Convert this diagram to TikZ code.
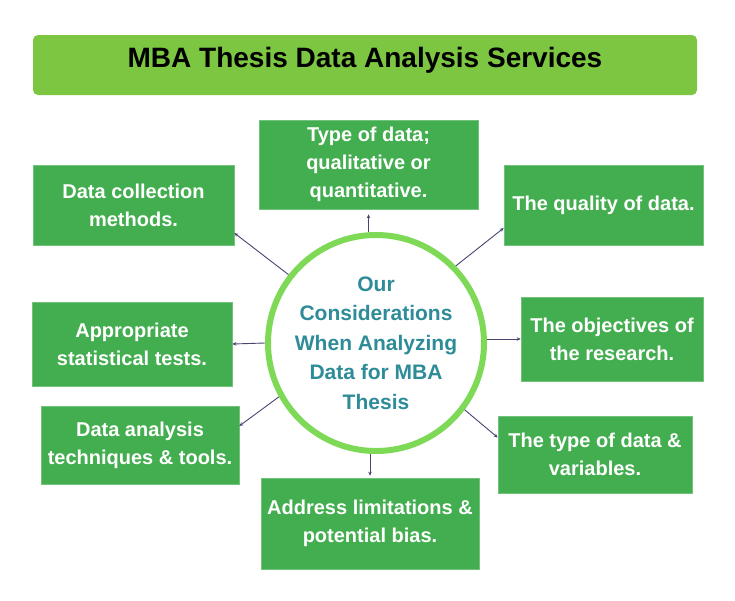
\documentclass[tikz,border=0pt]{standalone}
\usepackage{fontspec}
\setmainfont{Liberation Sans}
\usetikzlibrary{arrows.meta}
\definecolor{titlegreen}{HTML}{7DC642}
\definecolor{boxgreen}{HTML}{43AE4F}
\definecolor{ringgreen}{HTML}{7ED957}
\definecolor{tealtext}{HTML}{2E8C98}
\definecolor{connclr}{HTML}{4A4470}
\begin{document}
\begin{tikzpicture}[x=1pt,y=-1pt,
  titlebox/.style={rectangle, rounded corners=5pt, fill=titlegreen, draw=none, text=black,
    font=\fontsize{28}{34}\selectfont\bfseries, inner sep=0pt, text depth=16pt},
  infobox/.style={rectangle, fill=boxgreen, draw=boxgreen!75!white, line width=0.6pt, text=white,
    font=\fontsize{20}{28}\selectfont\bfseries, align=center, inner sep=0pt},
  hub/.style={circle, draw=ringgreen, line width=6pt, fill=white, minimum size=216pt, inner sep=-6pt,
    text=tealtext, align=center, font=\fontsize{21}{29.5}\selectfont\bfseries},
  conn/.style={draw=connclr, line width=0.9pt, -{Stealth[length=4pt,width=3.5pt]}}]
\useasboundingbox[fill=white] (0,0) rectangle (735,600);
\node[titlebox, minimum width=664pt, minimum height=60pt] (title) at (365,65) {MBA Thesis Data Analysis Services};
\node[hub] (c) at (376,343) {Our\\Considerations\\When Analyzing\\Data for MBA\\Thesis};
\node[infobox, minimum width=219pt, minimum height=89pt] (b1) at (368.5,164.5) {Type of data;\\qualitative or\\quantitative.};
\node[infobox, minimum width=201pt, minimum height=80pt] (b2) at (133.5,205) {Data collection\\methods.};
\node[infobox, minimum width=199pt, minimum height=80pt] (b3) at (603.5,205) {The quality of data.};
\node[infobox, minimum width=200pt, minimum height=84pt] (b4) at (132,344) {Appropriate\\statistical tests.};
\node[infobox, minimum width=182pt, minimum height=84pt] (b5) at (612,339) {The objectives of\\the research.};
\node[infobox, minimum width=198pt, minimum height=78pt] (b6) at (140,445) {Data analysis\\techniques \& tools.};
\node[infobox, minimum width=194pt, minimum height=77pt] (b7) at (595,454.5) {The type of data \&\\variables.};
\node[infobox, minimum width=218pt, minimum height=91pt] (b8) at (370,523.5) {Address limitations \&\\potential bias.};
\draw[conn] (b1.south |- c.north) -- ([yshift=-5pt]b1.south);
\draw[conn] (c.142) -- ([yshift=-28pt]b2.east);
\draw[conn] (c.44) -- ([yshift=-23pt]b3.west);
\draw[conn] (c.west) -- (b4.east);
\draw[conn] (b5.west -| c.east) -- (b5.west);
\draw[conn] (c.209) -- ([yshift=19pt]b6.east);
\draw[conn] (c.-37) -- ([yshift=17pt]b7.west);
\draw[conn] (b8.north |- c.south) -- ([yshift=2pt]b8.north);
\end{tikzpicture}
\end{document}
